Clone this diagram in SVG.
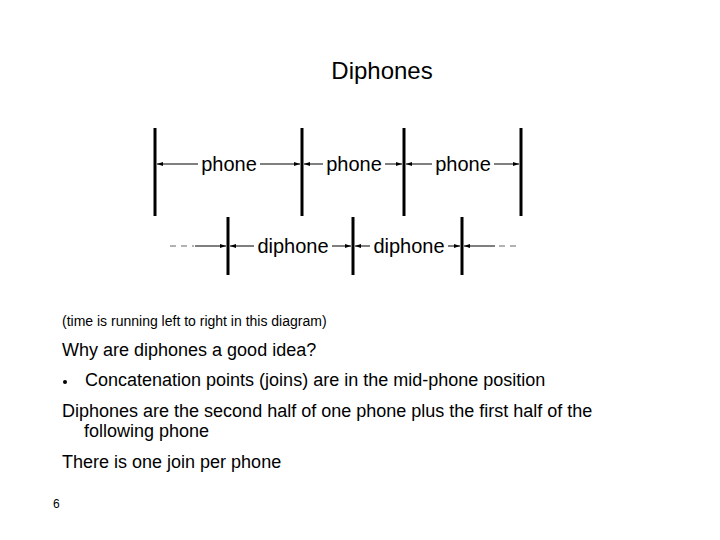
<svg xmlns="http://www.w3.org/2000/svg" width="720" height="540" viewBox="0 0 720 540">
<style>
.t{font-family:"Liberation Sans",Arial,sans-serif;fill:#000}
.bar{stroke:#000;stroke-width:3}
.ln{stroke:#000;stroke-width:1;fill:none}
.lb{font-family:"Liberation Sans",Arial,sans-serif;font-size:20px;text-anchor:middle}
</style>
<defs>
<marker id="a" viewBox="0 0 6 6" refX="6" refY="3" markerWidth="6" markerHeight="6" orient="auto-start-reverse" markerUnits="userSpaceOnUse"><path d="M0,1 L6,3 L0,5z"/></marker>
</defs>
<rect width="720" height="540" fill="#fff"/>
<text class="t" x="382" y="79" font-size="24" text-anchor="middle">Diphones</text>
<g id="bars">
<line class="bar" x1="155" y1="128" x2="155" y2="216"/>
<line class="bar" x1="302" y1="128" x2="302" y2="216"/>
<line class="bar" x1="404" y1="128" x2="404" y2="216"/>
<line class="bar" x1="521" y1="128" x2="521" y2="216"/>
<line class="bar" x1="228" y1="217" x2="228" y2="275"/>
<line class="bar" x1="353" y1="217" x2="353" y2="275"/>
<line class="bar" x1="462" y1="217" x2="462" y2="275"/>
</g>
<g id="connectors">
<line class="ln" x1="157" y1="164" x2="300" y2="164" marker-start="url(#a)" marker-end="url(#a)"/>
<line class="ln" x1="304" y1="164" x2="402" y2="164" marker-start="url(#a)" marker-end="url(#a)"/>
<line class="ln" x1="406" y1="164" x2="519" y2="164" marker-start="url(#a)" marker-end="url(#a)"/>
<line class="ln" x1="230" y1="246" x2="351" y2="246" marker-start="url(#a)" marker-end="url(#a)"/>
<line class="ln" x1="355" y1="246" x2="460" y2="246" marker-start="url(#a)" marker-end="url(#a)"/>
<line class="ln" x1="195" y1="246" x2="226" y2="246" marker-end="url(#a)"/>
<line class="ln" x1="464" y1="246" x2="495" y2="246" marker-start="url(#a)"/>
<line x1="170" y1="246" x2="194" y2="246" stroke="#666" stroke-width="1" stroke-dasharray="6,5"/>
<line x1="499" y1="246" x2="520" y2="246" stroke="#666" stroke-width="1" stroke-dasharray="6,5"/>
</g>
<g id="labels">
<rect x="198" y="152" width="62" height="24" fill="#fff"/>
<text class="lb" x="229" y="171">phone</text>
<rect x="323" y="152" width="62" height="24" fill="#fff"/>
<text class="lb" x="354" y="171">phone</text>
<rect x="432" y="152" width="62" height="24" fill="#fff"/>
<text class="lb" x="463" y="171">phone</text>
<rect x="254" y="234" width="78" height="24" fill="#fff"/>
<text class="lb" x="293" y="253">diphone</text>
<rect x="370" y="234" width="78" height="24" fill="#fff"/>
<text class="lb" x="409" y="253">diphone</text>
</g>
<g class="t">
<text x="62" y="326" font-size="14">(time is running left to right in this diagram)</text>
<text x="62" y="356" font-size="18">Why are diphones a good idea?</text>
<circle cx="65" cy="382" r="2"/>
<text x="85" y="386" font-size="18">Concatenation points (joins) are in the mid-phone position</text>
<text x="62" y="417" font-size="18">Diphones are the second half of one phone plus the first half of the</text>
<text x="84" y="437" font-size="18">following phone</text>
<text x="62" y="468" font-size="18">There is one join per phone</text>
<text x="53" y="508" font-size="12">6</text>
</g>
</svg>
